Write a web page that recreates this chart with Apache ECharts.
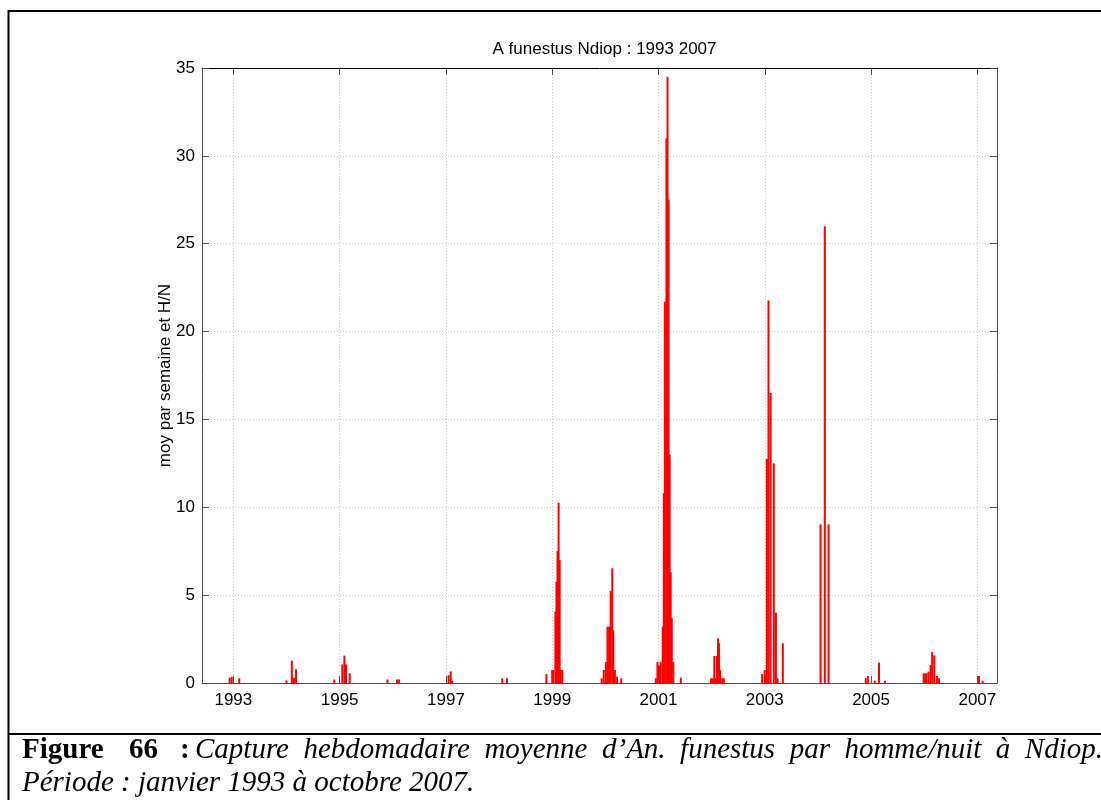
<!DOCTYPE html>
<html>
<head>
<meta charset="utf-8">
<script src="https://cdn.jsdelivr.net/npm/echarts@6/dist/echarts.min.js"></script>
<style>
html,body{margin:0;padding:0;background:#fff;}
#chart{width:1101px;height:800px;}
</style>
</head>
<body>
<div id="chart"></div>
<script>
// ---- data (decimal year of each weekly capture, mean bites per man/night) ----
const weekYear = [
  1992.93, 1992.97, 1993.11,
  1994.00, 1994.10, 1994.13, 1994.15, 1994.18,
  1994.90, 1995.05, 1995.09, 1995.12, 1995.19,
  1995.90, 1996.08, 1996.12,
  1997.05, 1997.09, 1997.12,
  1998.06, 1998.15,
  1998.89, 1999.00, 1999.02, 1999.06, 1999.08, 1999.10, 1999.12, 1999.14, 1999.16, 1999.19,
  1999.93, 1999.97, 2000.01, 2000.04, 2000.07, 2000.10, 2000.13, 2000.15, 2000.18, 2000.22, 2000.30,
  2000.95, 2000.98, 2001.01, 2001.04, 2001.08, 2001.10, 2001.12, 2001.15, 2001.17, 2001.19, 2001.21, 2001.23, 2001.25, 2001.28, 2001.42,
  2001.99, 2002.02, 2002.05, 2002.07, 2002.10, 2002.12, 2002.14, 2002.16, 2002.20, 2002.23,
  2002.95, 2003.00, 2003.04, 2003.07, 2003.11, 2003.17, 2003.21, 2003.24, 2003.34,
  2004.05, 2004.13, 2004.20,
  2004.90, 2004.94, 2005.07, 2005.15, 2005.26,
  2005.99, 2006.02, 2006.04, 2006.08, 2006.12, 2006.15, 2006.19, 2006.24, 2006.28,
  2007.03, 2007.10
];
const weekValue = [
  0.3, 0.35, 0.27,
  0.15, 1.27, 0.3, 0.27, 0.78,
  0.2, 1.06, 1.56, 1.06, 0.55,
  0.2, 0.2, 0.2,
  0.45, 0.66, 0.13,
  0.27, 0.27,
  0.51, 0.74, 0.74, 4.06, 5.76, 7.5, 10.26, 7.0, 0.74, 0.74,
  0.27, 0.74, 1.2, 3.2, 3.2, 5.24, 6.53, 3.0, 0.74, 0.36, 0.27,
  0.27, 1.2, 1.0, 1.2, 3.2, 10.8, 21.7, 31.0, 34.5, 27.5, 13.0, 6.3, 3.7, 1.2, 0.3,
  0.27, 0.27, 1.54, 0.27, 1.54, 2.54, 2.26, 0.74, 0.27, 0.27,
  0.51, 0.74, 12.75, 21.77, 16.5, 12.5, 4.0, 0.27, 2.26,
  9.03, 26.0, 9.03,
  0.27, 0.4, 0.13, 1.16, 0.13,
  0.55, 0.55, 0.55, 0.65, 1.02, 1.76, 1.57, 0.4, 0.27,
  0.4, 0.13
];
const xTickYears = [1993, 1995, 1997, 1999, 2001, 2003, 2005, 2007];
const yMin = 0, yMax = 35, yStep = 5;
const xMin = 1992.41, xMax = 2007.37;

const titleText = 'A funestus Ndiop : 1993 2007';
const yAxisTitle = 'moy par semaine et H/N';
const captionBold = ['Figure', '66', ':'];
const captionItalic = ['Capture', 'hebdomadaire', 'moyenne', 'd\u2019An.', 'funestus',
  'par', 'homme/nuit', '\u00e0', 'Ndiop.'];
const captionLine2 = 'P\u00e9riode : janvier 1993 \u00e0 octobre 2007.';

// ---- chart ----
const pairs = weekYear.map((x, i) => [x, weekValue[i]]);
const sans = '"Liberation Sans", Arial, sans-serif';
const serif = '"Liberation Serif", "Times New Roman", serif';
const gridCfg = {left: 202, top: 68, right: 104, bottom: 117};
const axisLineColor = '#4d4d4d';
const gridLineStyle = {color: '#c8c8c8', type: [1, 2], width: 1};
const plotFont = 17;

const capSize = 29;
const boldFont = 'bold ' + capSize + 'px ' + serif;
const italFont = 'italic ' + capSize + 'px ' + serif;
const ctx = document.createElement('canvas').getContext('2d');
function textW(t, f) { ctx.font = f; return ctx.measureText(t).width; }

const graphics = [
  {type: 'line', shape: {x1: 8.5, y1: 11, x2: 1101, y2: 11}, style: {stroke: '#000', lineWidth: 2}},
  {type: 'line', shape: {x1: 8.5, y1: 10, x2: 8.5, y2: 800}, style: {stroke: '#000', lineWidth: 2}},
  {type: 'line', shape: {x1: 8.5, y1: 734, x2: 1101, y2: 734}, style: {stroke: '#000', lineWidth: 2}}
];
// bold label words (spaced as in the justified source line)
const boldX = [22, 129, 180];
captionBold.forEach((w, i) => {
  graphics.push({type: 'text', x: boldX[i], y: 736,
    style: {text: w, fill: '#000', font: boldFont, textVerticalAlign: 'top'}});
});
// justified italic words from x=195 to right edge 1103
const startX = 195, endX = 1103;
const widths = captionItalic.map(w => textW(w, italFont));
const totalW = widths.reduce((a, b) => a + b, 0);
const gap = (endX - startX - totalW) / (captionItalic.length - 1);
let cx = startX;
captionItalic.forEach((w, i) => {
  graphics.push({type: 'text', x: cx, y: 736,
    style: {text: w, fill: '#000', font: italFont, textVerticalAlign: 'top'}});
  cx += widths[i] + gap;
});
graphics.push({
  type: 'text', x: 22, y: 769,
  style: {text: captionLine2, fill: '#000', font: italFont, textVerticalAlign: 'top'}
});

const chart = echarts.init(document.getElementById('chart'), null, {renderer: 'canvas'});
chart.setOption({
  animation: false,
  backgroundColor: '#fff',
  title: {
    text: titleText, left: 599.5, top: 36, textAlign: 'center',
    textStyle: {fontFamily: sans, fontSize: plotFont, fontWeight: 'normal', color: '#000'}
  },
  grid: gridCfg,
  xAxis: [{
    type: 'value', min: xMin, max: xMax, position: 'bottom',
    axisLine: {show: true, onZero: false, lineStyle: {color: axisLineColor, width: 1}},
    axisTick: {show: true, inside: true, length: 7, customValues: xTickYears, lineStyle: {color: axisLineColor}},
    axisLabel: {customValues: xTickYears, color: '#000', fontFamily: sans, fontSize: plotFont, margin: 9,
      formatter: v => String(Math.round(v))},
    splitLine: {show: true, lineStyle: gridLineStyle}
  }, {
    type: 'value', min: xMin, max: xMax, position: 'top',
    axisLine: {show: true, onZero: false, lineStyle: {color: '#000', width: 1}},
    axisTick: {show: true, inside: true, length: 7, customValues: xTickYears, lineStyle: {color: axisLineColor}},
    axisLabel: {show: false},
    splitLine: {show: false}
  }],
  yAxis: [{
    type: 'value', min: yMin, max: yMax, interval: yStep, position: 'left',
    name: yAxisTitle, nameLocation: 'middle', nameGap: 28, nameRotate: 90,
    nameMoveOverlap: false,
    nameTextStyle: {fontFamily: sans, fontSize: plotFont, color: '#000'},
    axisLine: {show: true, lineStyle: {color: axisLineColor, width: 1}},
    axisTick: {show: true, inside: true, length: 7, lineStyle: {color: axisLineColor}},
    axisLabel: {color: '#000', fontFamily: sans, fontSize: plotFont, margin: 7},
    splitLine: {show: true, lineStyle: gridLineStyle}
  }, {
    type: 'value', min: yMin, max: yMax, interval: yStep, position: 'right',
    axisLine: {show: true, lineStyle: {color: axisLineColor, width: 1}},
    axisTick: {show: true, inside: true, length: 7, lineStyle: {color: axisLineColor}},
    axisLabel: {show: false},
    splitLine: {show: false}
  }],
  series: [{
    type: 'bar', xAxisIndex: 0, yAxisIndex: 0,
    data: pairs, barWidth: 2,
    itemStyle: {color: '#ff0000'},
    emphasis: {disabled: true}
  }],
  graphic: graphics
});
</script>
</body>
</html>
